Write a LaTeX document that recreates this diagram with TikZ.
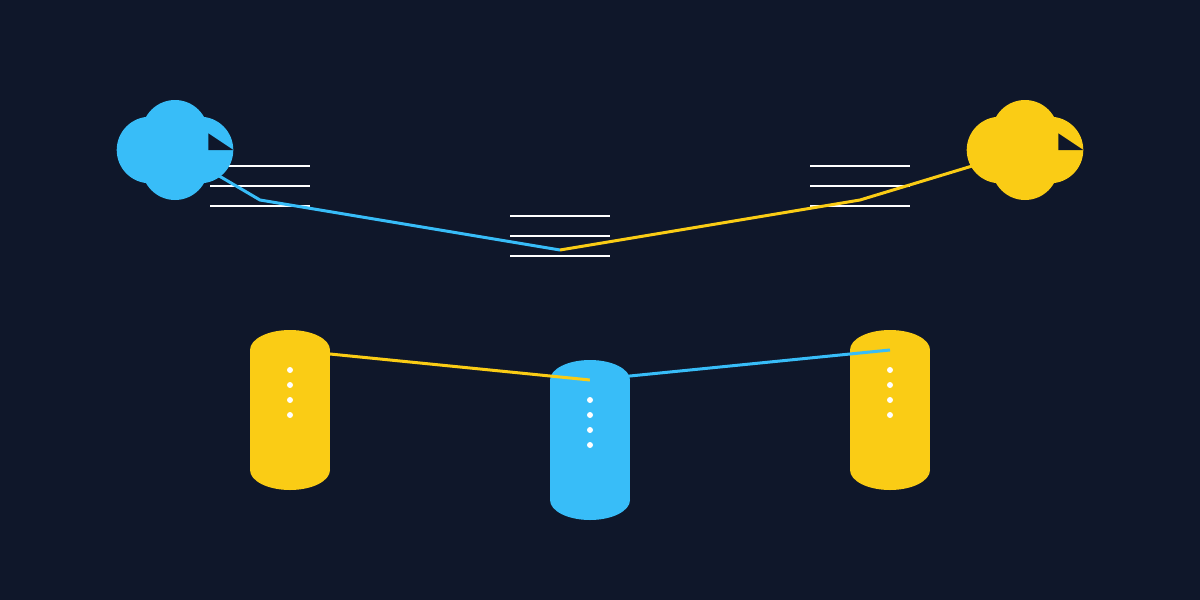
\documentclass[tikz,border=0pt]{standalone}
\definecolor{bgc}{HTML}{0F172A}
\definecolor{skyc}{HTML}{38BDF8}
\definecolor{ambc}{HTML}{FACC15}
\tikzset{
  rule/.style={white,line width=2pt},
  link/.style={line width=3pt,line join=round},
  dotmark/.style={fill=white,draw=none},
  pics/cloudshape/.style={code={
    \fill[#1] (-25,0) circle[radius=33.3];
    \fill[#1] (25,0) circle[radius=33.3];
    \fill[#1] (0,-16.7) circle[radius=33.3];
    \fill[#1] (0,16.7) circle[radius=33.3];
    \fill[bgc] (33.3,-16.7) -- (58.3,0) -- (33.3,0) -- cycle;
  }},
  pics/cylshape/.style={code={
    \fill[#1] (-40,-60) -- (40,-60) -- (40,60) -- (-40,60) -- cycle;
    \fill[#1] (0,-60) ellipse[x radius=40,y radius=20];
    \fill[#1] (0,60) ellipse[x radius=40,y radius=20];
    \foreach \d in {-40,-25,-10,5} \fill[dotmark] (0,\d) circle[radius=3];
  }},
  pics/ruleset/.style={code={
    \draw[rule] (-50,-20) -- (50,-20);
    \draw[rule] (-50,0) -- (50,0);
    \draw[rule] (-50,20) -- (50,20);
  }}
}
\begin{document}
\begin{tikzpicture}[x=1pt,y=-1pt]
\fill[bgc] (0,0) rectangle (1200,600);
\useasboundingbox (0,0) rectangle (1200,600);
% rule stacks
\pic at (260,186) {ruleset};
\pic at (560,236) {ruleset};
\pic at (860,186) {ruleset};
% clouds
\coordinate (cloudL) at (175,150);
\coordinate (cloudR) at (1025,150);
\pic at (cloudL) {cloudshape=skyc};
\pic at (cloudR) {cloudshape=ambc};
% cylinders
\coordinate (cylL) at (290,410);
\coordinate (cylM) at (590,440);
\coordinate (cylR) at (890,410);
\pic at (cylL) {cylshape=ambc};
\pic at (cylM) {cylshape=skyc};
\pic at (cylR) {cylshape=ambc};
% connectors
\coordinate (bendL) at (260,200);
\coordinate (bendR) at (860,200);
\coordinate (meet) at (560,250);
\coordinate (topL) at (290,350);
\coordinate (topM) at (590,380);
\coordinate (topR) at (890,350);
\begin{scope}
\clip (0,0) rectangle (1200,600);
\draw[link,skyc] (cloudL) -- (bendL) -- (meet);
\draw[link,ambc] (meet) -- (bendR) -- (cloudR);
\draw[link,ambc] (topL) -- (topM);
\draw[link,skyc] (topM) -- (topR);
\end{scope}
\end{tikzpicture}
\end{document}
